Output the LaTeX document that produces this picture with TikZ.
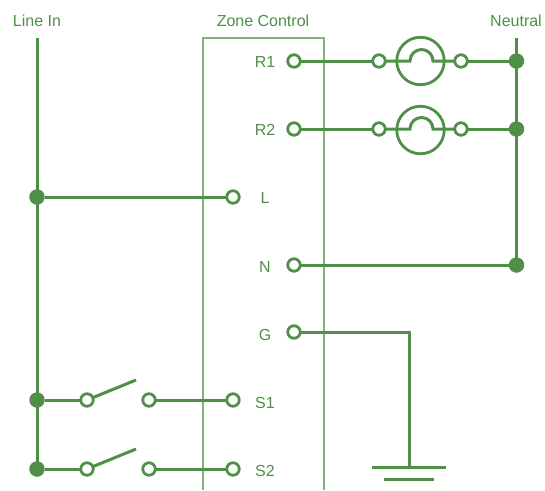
\documentclass[tikz,border=0pt]{standalone}
\usepackage{fontspec}
\setmainfont{Liberation Sans}
\definecolor{wire}{HTML}{4F8F47}
\definecolor{boxline}{HTML}{82B17C}

\begin{document}
\begin{tikzpicture}[x=1pt, y=-1pt, line width=3pt, draw=wire, text=wire, font=\fontsize{16}{18}\selectfont]
      \tikzstyle{terminal}=[circle, draw=wire, fill=white, line width=2.8pt, minimum size=12.5pt, inner sep=0pt, outer sep=0pt]
      \tikzstyle{junction}=[circle, fill=wire, minimum size=15.5pt, inner sep=0pt, outer sep=0pt]
      \tikzstyle{lamp}=[circle, draw=wire, line width=2.8pt, minimum size=47.5pt, inner sep=0pt, outer sep=0pt]
      \tikzstyle{label}=[inner sep=0pt]

      \useasboundingbox (0, 0) rectangle (545, 490);

      % zone control box
      \coordinate (boxA) at (203, 490);
      \coordinate (boxB) at (203, 38);
      \coordinate (boxC) at (324, 38);
      \coordinate (boxD) at (324, 490);
      \draw[boxline, line width=1.4pt] (boxA) -- (boxB) -- (boxC) -- (boxD);

      \node[label] (linein) at (37, 21) {Line In};
      \node[label] (zone) at (263, 21) {Zone Control};
      \node[label] (neutral) at (516, 21) {Neutral};

      \coordinate (linetop) at (37, 38);
      \coordinate (neutraltop) at (516.5, 38);

      % junctions
      \node[junction] (J1) at (37, 197) {};
      \node[junction] (J2) at (37, 400) {};
      \node[junction] (J3) at (37, 469) {};
      \node[junction] (J4) at (516.5, 61) {};
      \node[junction] (J5) at (516.5, 129) {};
      \node[junction] (J6) at (516.5, 265) {};

      \draw (linetop) -- (J1.center) -- (J2.center) -- (J3.center);
      \draw (neutraltop) -- (J4.center) -- (J5.center) -- (J6.center);

      % zone terminals
      \node[terminal] (R1) at (294, 61) {};
      \node[terminal] (R2) at (294, 129) {};
      \node[terminal] (L) at (233, 197) {};
      \node[terminal] (N) at (294, 265) {};
      \node[terminal] (G) at (294, 332) {};
      \node[terminal] (S1) at (233, 400) {};
      \node[terminal] (S2) at (233, 469) {};

      \node[label] (labR1) at (265, 62) {R1};
      \node[label] (labR2) at (265, 130) {R2};
      \node[label] (labL) at (265, 198) {L};
      \node[label] (labN) at (265, 267) {N};
      \node[label] (labG) at (265, 335) {G};
      \node[label] (labS1) at (265, 403) {S1};
      \node[label] (labS2) at (265, 471) {S2};

      % lamps
      \node[lamp] (lamp1) at (420.5, 61) {};
      \node[terminal] (A1) at (379, 61) {};
      \node[terminal] (B1) at (461, 61) {};
      \node[lamp] (lamp2) at (420.5, 130) {};
      \node[terminal] (A2) at (379, 129) {};
      \node[terminal] (B2) at (461, 129) {};

      \draw (R1) -- (A1);
      \draw (B1) -- (J4);
      \draw (R2) -- (A2);
      \draw (B2) -- (J5);
      \draw (A1) -- (410, 61) arc (180:360:11.5) -- (B1);
      \draw (A2) -- (410, 129) arc (180:360:11.5) -- (B2);

      \draw (J1) -- (L);
      \draw (N) -- (J6);

      % switches
      \node[terminal] (P1) at (87, 400) {};
      \node[terminal] (Q1) at (149, 400) {};
      \node[terminal] (P2) at (87, 469) {};
      \node[terminal] (Q2) at (149, 469) {};
      \coordinate (arm1) at (136, 380);
      \coordinate (arm2) at (136, 449);

      \draw (J2) -- (P1);
      \draw (P1) -- (arm1);
      \draw (Q1) -- (S1);
      \draw (J3) -- (P2);
      \draw (P2) -- (arm2);
      \draw (Q2) -- (S2);

      % ground
      \coordinate (gndA) at (372, 467);
      \coordinate (gndB) at (446, 467);
      \coordinate (gndC) at (384, 479);
      \coordinate (gndD) at (434, 479);
      \coordinate (gndtop) at (409, 467);
      \draw (G) -| (gndtop);
      \draw (gndA) -- (gndB);
      \draw (gndC) -- (gndD);
\end{tikzpicture}
\end{document}
